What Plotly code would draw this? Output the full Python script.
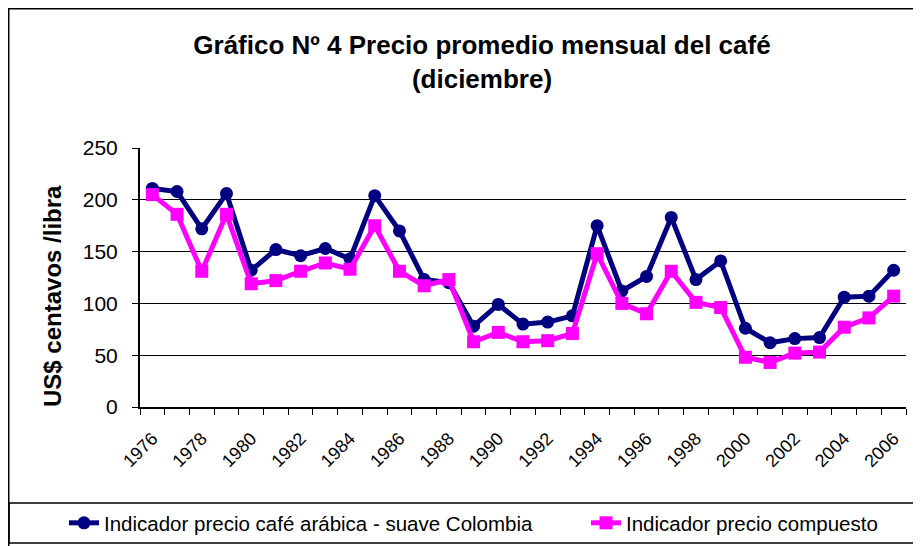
import plotly.graph_objects as go

years = list(range(1976, 2007))
arabica_colombia = [211, 208, 172, 206, 132, 152, 146, 153, 143, 204,
                    170, 123, 120, 78, 99, 80, 82, 88, 175, 112,
                    126, 183, 123, 141, 76, 62, 66, 67, 106, 107, 132]
compuesto = [205, 186, 131, 186, 119, 122, 131, 139, 133, 175,
             131, 117, 123, 63, 72, 63, 64, 71, 148, 100,
             90, 131, 101, 96, 48, 43, 52, 53, 77, 86, 107]
tick_years = list(range(1976, 2007, 2))
tick_labels = [str(y) for y in tick_years]

FONT = "Liberation Sans, Arial, sans-serif"
OFF = 8  # page body margin in the browser
W, H = 921 - OFF, 546 - OFF


def px(x):  # page pixel x -> paper
    return (x - 140) / 766


def py(y):  # page pixel y -> paper
    return (407 - y) / 259


fig = go.Figure()
fig.add_trace(go.Scatter(
    x=years, y=arabica_colombia, mode="lines+markers",
    name="Indicador precio café arábica - suave Colombia",
    line=dict(color="#000080", width=5),
    marker=dict(symbol="circle", size=13, color="#000080"),
    legendwidth=477,
))
fig.add_trace(go.Scatter(
    x=years, y=compuesto, mode="lines+markers",
    name="Indicador precio compuesto",
    line=dict(color="#FF00FF", width=5),
    marker=dict(symbol="square", size=13, color="#FF00FF"),
))

fig.update_layout(
    width=W, height=H,
    margin=dict(l=140 - OFF, r=15, t=148 - OFF, b=139, autoexpand=False),
    paper_bgcolor="white", plot_bgcolor="white",
    font=dict(family=FONT, color="black"),
    title=dict(
        text="<b>Gráfico Nº 4 Precio promedio mensual del café<br>(diciembre)</b>",
        x=(482 - OFF) / W, xanchor="center", xref="container",
        y=1 - (54 - OFF) / H, yanchor="top", yref="container",
        font=dict(size=26, family=FONT, color="black"),
    ),
    showlegend=True,
    legend=dict(
        orientation="h", xref="paper", yref="paper",
        x=px(64), xanchor="left", y=py(523), yanchor="middle",
        font=dict(size=20.5, family=FONT, color="black"),
        bgcolor="rgba(0,0,0,0)",
    ),
    xaxis=dict(
        range=[1975.5, 2006.5], automargin=False,
        tickvals=tick_years, ticktext=tick_labels,
        tickangle=-45, ticks="", tickfont=dict(size=18, family=FONT),
        ticklabelstandoff=12,
        showgrid=False, zeroline=False,
        showline=True, linecolor="black", linewidth=2,
        minor=dict(tick0=1975.5, dtick=1, ticks="outside", ticklen=6,
                   tickcolor="black", tickwidth=1, showgrid=False),
    ),
    yaxis=dict(
        range=[0, 250], tickvals=[0, 50, 100, 150, 200, 250], automargin=False,
        ticks="outside", ticklen=6, tickcolor="black",
        tickfont=dict(size=21, family=FONT),
        ticklabelstandoff=10,
        showgrid=True, gridcolor="black", gridwidth=1,
        zeroline=False, showline=True, linecolor="black", linewidth=2,
    ),
    annotations=[dict(
        text="<b>US$ centavos /libra</b>", textangle=-90,
        xref="paper", yref="paper",
        x=px(52), y=py(296), xanchor="center", yanchor="middle",
        showarrow=False, font=dict(size=24, family=FONT, color="black"),
    )],
    shapes=[
        dict(type="rect", xref="paper", yref="paper",
             x0=px(8.75), x1=px(930), y0=py(560), y1=py(8.75),
             line=dict(color="black", width=1.5), fillcolor="rgba(0,0,0,0)", layer="below"),
        dict(type="rect", xref="paper", yref="paper",
             x0=px(9), x1=px(930), y0=py(543), y1=py(503),
             line=dict(color="black", width=1.5), fillcolor="rgba(0,0,0,0)", layer="below"),
    ],
)

fig.write_html("out.html")
